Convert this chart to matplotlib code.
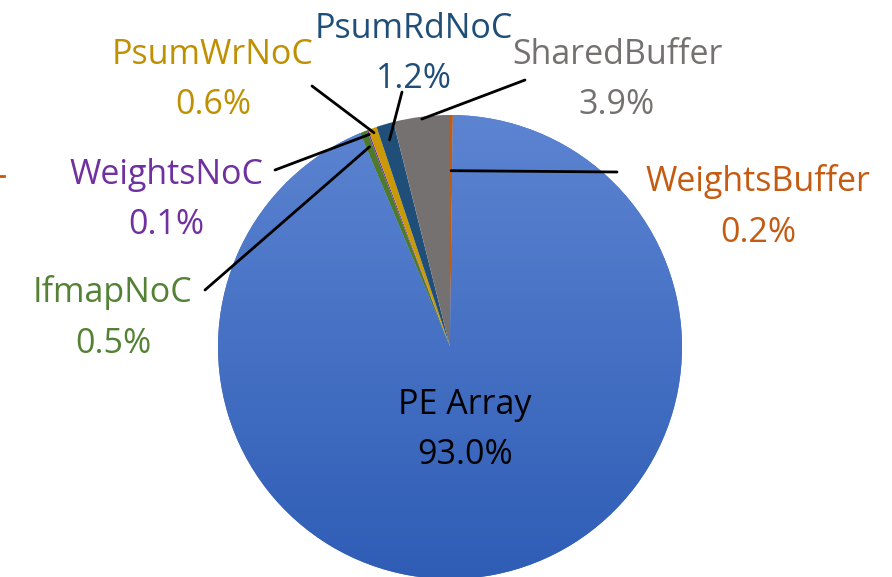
import numpy as np
import matplotlib
matplotlib.use("Agg")
import matplotlib.pyplot as plt

# data
labels = ['WeightsBuffer', 'PE Array', 'IfmapNoC', 'WeightsNoC',
          'PsumWrNoC', 'PsumRdNoC', 'SharedBuffer']
shares = [0.2, 93.0, 0.5, 0.1, 0.6, 1.2, 3.9]
colors = ['#C55A11', '#4472C4', '#4E7A2E', '#7030A0',
          '#C99A06', '#1F4E79', '#767171']
text_colors = ['#C55A11', '#000000', '#548235', '#7030A0',
               '#BF9000', '#1F4E79', '#767171']

# label placement in image pixels (x, y from top) and leader end point
label_pos = {
    'WeightsBuffer': ((758, 207), (617, 172)),
    'PE Array': ((465, 430), None),
    'IfmapNoC': ((113, 318), (205, 290)),
    'WeightsNoC': ((166, 200), (275, 170)),
    'PsumWrNoC': ((213, 80), (312, 86)),
    'PsumRdNoC': ((414, 54), (402, 92)),
    'SharedBuffer': ((617, 80), (525, 80)),
}
anchor_r = {'WeightsBuffer': 0.76, 'IfmapNoC': 0.93, 'WeightsNoC': 0.98,
            'PsumWrNoC': 0.98, 'PsumRdNoC': 0.93, 'SharedBuffer': 0.99}

W, H = 892, 577
plt.rcParams['font.family'] = ['Open Sans', 'DejaVu Sans']

fig = plt.figure(figsize=(W / 100, H / 100), dpi=100)
cx, cy, R = 450, 347, 232
ax = fig.add_axes([(cx - R) / W, (H - cy - R) / H, 2 * R / W, 2 * R / H])

wedges, _ = ax.pie(shares, colors=colors, startangle=90, counterclock=False,
                   radius=1, wedgeprops=dict(linewidth=0))

# gradient fill on the big blue slice
grad = np.linspace(0, 1, 256).reshape(-1, 1)
cmap = matplotlib.colors.LinearSegmentedColormap.from_list(
    'b', ['#2F5DB6', '#5C84D1'])
img = ax.imshow(grad, extent=[-1, 1, -1, 1], origin='lower', cmap=cmap,
                zorder=wedges[1].get_zorder() + 0.1)
img.set_clip_path(wedges[1])

ax.set_xlim(-1, 1)
ax.set_ylim(-1, 1)
ax.set_aspect('equal')
ax.axis('off')


def to_fig(px, py):
    return px / W, 1 - py / H


for i, (name, w) in enumerate(zip(labels, wedges)):
    (tx, ty), end = label_pos[name]
    fx, fy = to_fig(tx, ty)
    fig.text(fx, fy, f'{name}\n{shares[i]:.1f}%', ha='center', va='center',
             fontsize=24.5, color=text_colors[i], linespacing=1.65, zorder=5)
    if end is not None:
        mid = np.deg2rad((w.theta1 + w.theta2) / 2)
        r = anchor_r[name]
        ex, ey = to_fig(*end)
        ax.annotate('', xy=(r * np.cos(mid), r * np.sin(mid)), xycoords='data',
                    xytext=(ex, ey), textcoords='figure fraction',
                    arrowprops=dict(arrowstyle='-', color='black', lw=2,
                                    shrinkA=0, shrinkB=0),
                    annotation_clip=False)

# small clipped mark at the left edge
fig.add_artist(plt.Line2D([0, 4 / W], [1 - 176 / H] * 2, color='#C55A11', lw=2))

fig.savefig('out.png', dpi=100)
